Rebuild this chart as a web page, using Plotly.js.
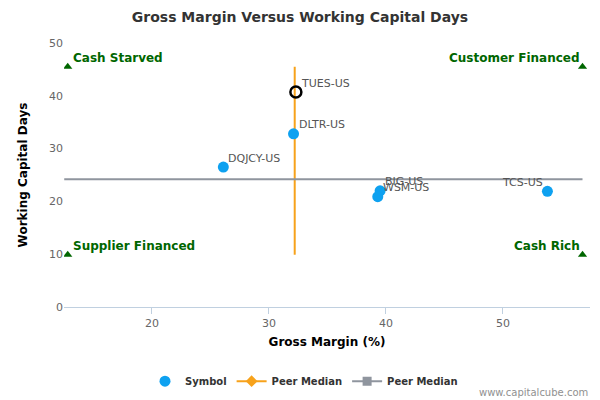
<!DOCTYPE html>
<html>
<head>
<meta charset="utf-8">
<script src="https://cdn.plot.ly/plotly-3.0.1.min.js"></script>
<style>html,body{margin:0;padding:0;background:#fff;}#chart{width:600px;height:400px;}</style>
</head>
<body>
<div id="chart"></div>
<script>
// Peer companies
const symbols = ["DQJCY-US", "DLTR-US", "BIG-US", "WSM-US", "TCS-US"];
const grossMargin = [26.1, 32.1, 39.5, 39.3, 53.8];
const wcDays = [26.5, 32.8, 22.0, 20.9, 21.9];
const labelSide = ["right", "right", "right", "right", "left"];

// Highlighted company
const focusSymbol = ["TUES-US"];
const focusMargin = [32.3];
const focusDays = [40.7];

// Peer medians
const medianMargin = 32.2;
const medianDays = 24.2;

// Quadrant markers
const quadLabels = ["Cash Starved", "Customer Financed", "Supplier Financed", "Cash Rich"];
const quadX = [12.8, 56.8, 12.8, 56.8];
const quadY = [45.5, 45.5, 9.9, 9.9];
const quadSide = ["right", "left", "right", "left"];

const FONT = "DejaVu Sans, Verdana, sans-serif";

const traces = [
  {
    x: [medianMargin, medianMargin], y: [Math.min(...quadY), Math.max(...quadY)],
    mode: "lines", line: {color: "#f7a21b", width: 2},
    showlegend: false, hoverinfo: "skip"
  },
  {
    x: [Math.min(...quadX) - 0.3, Math.max(...quadX)], y: [medianDays, medianDays],
    mode: "lines", line: {color: "#8f959e", width: 2},
    showlegend: false, hoverinfo: "skip"
  },
  {
    x: quadX, y: quadY,
    mode: "markers",
    marker: {symbol: "triangle-up", size: 8, color: "#006600"},
    showlegend: false, hoverinfo: "skip"
  },
  {
    name: "Symbol",
    x: grossMargin, y: wcDays,
    mode: "markers",
    marker: {symbol: "circle", size: 11, color: "#0ea1f0"},
    showlegend: true
  },
  {
    x: focusMargin, y: focusDays,
    mode: "markers",
    marker: {symbol: "circle-open", size: 11, color: "#000", line: {width: 2.5, color: "#000"}},
    showlegend: false
  },
  {
    name: "Peer Median",
    x: [null], y: [null], mode: "lines+markers",
    line: {color: "#f7a21b", width: 2},
    marker: {symbol: "diamond", size: 9, color: "#f7a21b"}
  },
  {
    name: "Peer Median ",
    x: [null], y: [null], mode: "lines+markers",
    line: {color: "#8f959e", width: 2},
    marker: {symbol: "square", size: 9, color: "#8f959e"}
  }
];

const annotations = [];
function pointLabel(x, y, text, side) {
  annotations.push({
    x: x, y: y, xref: "x", yref: "y", text: text, showarrow: false,
    xanchor: side === "right" ? "left" : "right", yanchor: "middle",
    xshift: side === "right" ? 3 : -2, yshift: 9,
    font: {family: FONT, size: 11, color: "#555"}
  });
}
symbols.forEach((s, i) => pointLabel(grossMargin[i], wcDays[i], s, labelSide[i]));
focusSymbol.forEach((s, i) => pointLabel(focusMargin[i], focusDays[i], s, "right"));
quadLabels.forEach((q, i) => annotations.push({
  x: quadX[i], y: quadY[i], xref: "x", yref: "y", text: "<b>" + q + "</b>", showarrow: false,
  xanchor: quadSide[i] === "right" ? "left" : "right", yanchor: "middle",
  xshift: quadSide[i] === "right" ? 3 : -1, yshift: 9,
  font: {family: FONT, size: 12, color: "#006600"}
}));
annotations.push({text: "www.capitalcube.com", xref: "paper", yref: "paper", x: 1, xanchor: "right",
  y: -0.322, yanchor: "middle", showarrow: false, font: {family: FONT, size: 10, color: "#909090"}});

const layout = {
  width: 600, height: 400,
  margin: {l: 64, r: 10, t: 43, b: 93},
  paper_bgcolor: "#fff", plot_bgcolor: "#fff",
  font: {family: FONT, color: "#333"},
  title: {text: "<b>Gross Margin Versus Working Capital Days</b>", font: {family: FONT, size: 14, color: "#333"},
          x: 0.5, xanchor: "center", y: 0.957, yanchor: "middle", xref: "container", yref: "container"},
  xaxis: {
    range: [12.48, 57.44], tickvals: [20, 30, 40, 50],
    showgrid: false, zeroline: false,
    showline: true, linecolor: "#c0d0e0", linewidth: 1,
    ticks: "outside", ticklen: 6, tickcolor: "#c0d0e0",
    tickfont: {family: FONT, size: 11, color: "#666"},
    title: {text: "<b>Gross Margin (%)</b>", font: {family: FONT, size: 12, color: "#000"}, standoff: 8}
  },
  yaxis: {
    range: [0, 50], tickvals: [0, 10, 20, 30, 40, 50],
    showgrid: false, zeroline: false, showline: false, ticks: "",
    tickfont: {family: FONT, size: 11, color: "#666"},
    title: {text: "<b>Working Capital Days</b>", font: {family: FONT, size: 12, color: "#000"}, standoff: 18}
  },
  legend: {
    orientation: "h", xref: "container", yref: "container",
    x: 0.51, xanchor: "center", y: 0.047, yanchor: "middle",
    font: {family: FONT, size: 10, color: "#333", weight: "bold"},
    itemwidth: 30
  },
  annotations: annotations,
  showlegend: true
};

Plotly.newPlot("chart", traces, layout, {displayModeBar: false, staticPlot: true});
</script>
</body>
</html>
